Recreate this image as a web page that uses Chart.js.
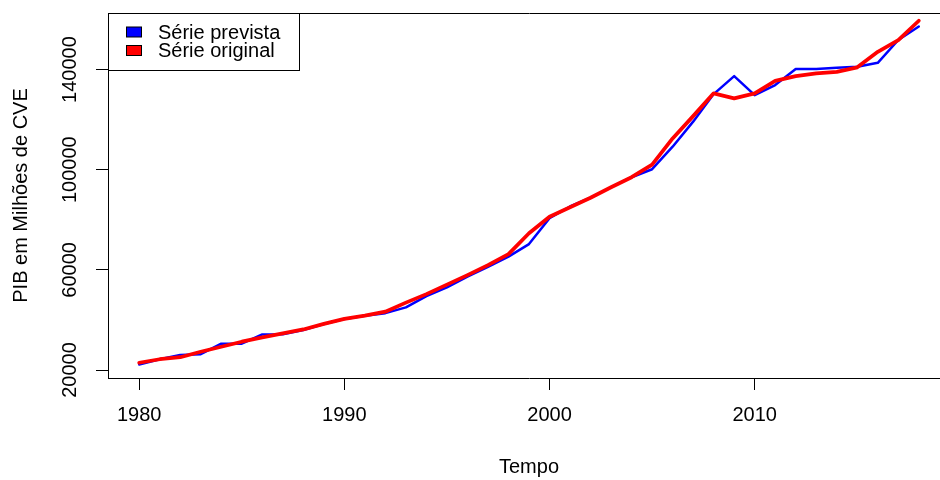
<!DOCTYPE html>
<html>
<head>
<meta charset="utf-8">
<title>PIB em Milhões de CVE</title>
<script src="https://cdn.jsdelivr.net/npm/chart.js@4.4.1/dist/chart.umd.min.js"></script>
<style>
  html, body { margin: 0; padding: 0; background: #fff; width: 940px; height: 480px; overflow: hidden; }
  #wrap { width: 960px; height: 480px; }
  canvas { display: block; }
</style>
</head>
<body>
<div id="wrap"><canvas id="pib" width="960" height="480"></canvas></div>
<script>
// Anos da série
const years = [
  1980, 1981, 1982, 1983, 1984, 1985, 1986, 1987, 1988, 1989,
  1990, 1991, 1992, 1993, 1994, 1995, 1996, 1997, 1998, 1999,
  2000, 2001, 2002, 2003, 2004, 2005, 2006, 2007, 2008, 2009,
  2010, 2011, 2012, 2013, 2014, 2015, 2016, 2017, 2018
];

// PIB previsto pelo modelo (milhões de CVE)
const seriePrevista = [
  22200, 24300, 26000, 26300, 30500, 30500, 34200, 34300, 36000, 38400,
  40400, 41700, 42700, 45000, 49500, 53000, 57300, 61200, 65300, 70300,
  80600, 85300, 88800, 93000, 97000, 100200, 109200, 119200, 130200, 137400,
  129800, 133800, 140200, 140200, 140700, 141100, 142700, 151800, 157200
];

// PIB observado (milhões de CVE)
const serieOriginal = [
  22900, 24300, 25100, 27300, 29300, 31300, 33000, 34600, 36200, 38400,
  40400, 41700, 43300, 46900, 50300, 54100, 57900, 61900, 66300, 74600,
  81200, 85000, 88800, 93000, 97000, 102000, 112500, 121400, 130500, 128500,
  130500, 135500, 137400, 138500, 139100, 140900, 147100, 151800, 159500
];

// Marcas dos eixos
const xTicks = [1980, 1990, 2000, 2010];
const yTicks = [20000, 40000, 60000, 80000, 100000, 120000, 140000, 160000];
const yTickLabels = [20000, 60000, 100000, 140000];

const seriesNames = ['Série prevista', 'Série original'];

const FONT = '"Liberation Sans", Arial, sans-serif';

// Legenda encaixada no canto superior esquerdo da área do gráfico
const insetLegend = {
  id: 'insetLegend',
  afterDraw(chart) {
    const ctx = chart.ctx;
    const ca = chart.chartArea;
    const x0 = Math.round(ca.left) + 0.5;
    const y0 = Math.round(ca.top) + 0.5;
    const w = 191, h = 57;
    ctx.save();
    ctx.fillStyle = '#ffffff';
    ctx.fillRect(x0, y0, w, h);
    ctx.strokeStyle = '#000000';
    ctx.lineWidth = 1;
    ctx.strokeRect(x0, y0, w, h);
    ctx.font = '20px ' + FONT;
    ctx.textBaseline = 'middle';
    ctx.textAlign = 'left';
    const entries = [chart.data.datasets[0], chart.data.datasets[1]];
    entries.forEach((ds, i) => {
      const cy = Math.round(ca.top) + 19 + i * 18.5;
      ctx.fillStyle = ds.borderColor;
      ctx.fillRect(x0 + 18, cy - 5, 15, 10);
      ctx.strokeStyle = '#000000';
      ctx.strokeRect(x0 + 18, cy - 5, 15, 10);
      ctx.fillStyle = '#000000';
      ctx.fillText(ds.label, Math.round(ca.left) + 50, cy + 1);
    });
    ctx.restore();
  }
};

const toPoints = (vals) => years.map((y, i) => ({ x: y, y: vals[i] }));

new Chart(document.getElementById('pib'), {
  type: 'line',
  data: {
    datasets: [
      {
        label: seriesNames[0],
        data: toPoints(seriePrevista),
        borderColor: '#0000ff',
        backgroundColor: '#0000ff',
        borderWidth: 2.5,
        pointRadius: 0,
        tension: 0,
        borderCapStyle: 'round',
        borderJoinStyle: 'round',
        order: 1
      },
      {
        label: seriesNames[1],
        data: toPoints(serieOriginal),
        borderColor: '#ff0000',
        backgroundColor: '#ff0000',
        borderWidth: 3.75,
        pointRadius: 0,
        tension: 0,
        borderCapStyle: 'round',
        borderJoinStyle: 'round',
        order: 0
      }
    ]
  },
  options: {
    responsive: false,
    animation: false,
    devicePixelRatio: 1,
    layout: { padding: { top: 13, right: 10, left: 0, bottom: 0 } },
    plugins: {
      legend: { display: false },
      tooltip: { enabled: false }
    },
    scales: {
      x: {
        type: 'linear',
        position: 'bottom',
        min: 1978.48,
        max: 2019.52,
        afterBuildTicks: (s) => { s.ticks = xTicks.map(v => ({ value: v })); },
        afterFit: (s) => { s.height = 102; },
        grid: { display: true, drawOnChartArea: false, drawTicks: true, tickLength: 12, color: '#000000', lineWidth: 1 },
        border: { display: true, color: '#000000', width: 1 },
        ticks: {
          color: '#000000',
          font: { family: FONT, size: 20 },
          padding: 13,
          maxRotation: 0,
          minRotation: 0,
          callback: (v) => String(v)
        },
        title: {
          display: true,
          text: 'Tempo',
          color: '#000000',
          font: { family: FONT, size: 20 },
          padding: { top: 0, bottom: 1 }
        }
      },
      xTop: {
        type: 'linear',
        position: 'top',
        afterFit: (s) => { s.height = 0; },
        grid: { display: false },
        border: { display: true, color: '#000000', width: 1 },
        ticks: { display: false }
      },
      y: {
        type: 'linear',
        position: 'left',
        min: 16805,
        max: 162596,
        afterBuildTicks: (s) => { s.ticks = yTicks.map(v => ({ value: v })); },
        afterFit: (s) => { s.width = 108; },
        grid: { display: true, drawOnChartArea: false, drawTicks: true, tickLength: 12, color: '#000000', lineWidth: 1 },
        border: { display: true, color: '#000000', width: 1 },
        ticks: {
          color: '#000000',
          font: { family: FONT, size: 20 },
          minRotation: 90,
          maxRotation: 90,
          crossAlign: 'center',
          padding: -8,
          callback: (v) => (yTickLabels.includes(v) ? String(v) : '')
        },
        title: {
          display: true,
          text: 'PIB em Milhões de CVE',
          color: '#000000',
          font: { family: FONT, size: 20 },
          padding: { top: 9, bottom: 0 }
        }
      }
    }
  },
  plugins: [insetLegend]
});
</script>
</body>
</html>
